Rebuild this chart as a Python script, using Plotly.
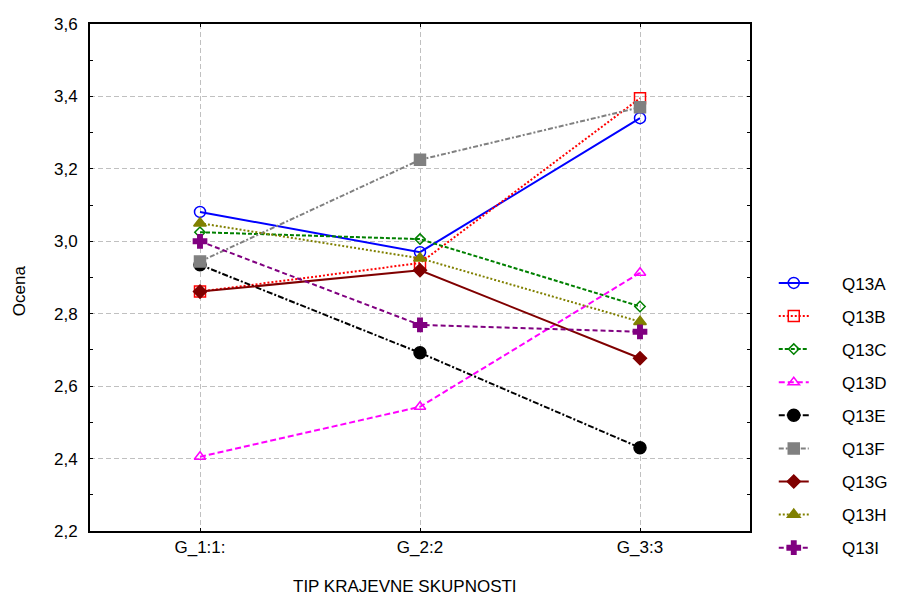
import plotly.graph_objects as go

categories = ["G_1:1:", "G_2:2", "G_3:3"]
series_names = ["Q13A", "Q13B", "Q13C", "Q13D", "Q13E", "Q13F", "Q13G", "Q13H", "Q13I"]
q13a = [3.081, 2.970, 3.340]
q13b = [2.861, 2.940, 3.395]
q13c = [3.025, 3.006, 2.820]
q13d = [2.405, 2.543, 2.913]
q13e = [2.935, 2.692, 2.430]
q13f = [2.944, 3.225, 3.370]
q13g = [2.861, 2.920, 2.677]
q13h = [3.050, 2.953, 2.778]
q13i = [3.000, 2.769, 2.750]
values = [q13a, q13b, q13c, q13d, q13e, q13f, q13g, q13h, q13i]
y_ticks = [2.2, 2.4, 2.6, 2.8, 3.0, 3.2, 3.4, 3.6]
x_title = "TIP KRAJEVNE SKUPNOSTI"
y_title = "Ocena"

styles = [
    dict(color="#0000FF", dash="solid", symbol="circle-open", size=11, width=2),
    dict(color="#FF0000", dash="2px,2px", symbol="square-open", size=11, width=2),
    dict(color="#008000", dash="4px,2px", symbol="diamond-open", size=8, width=2),
    dict(color="#FF00FF", dash="6px,3px", symbol="triangle-up-open", size=10, width=2),
    dict(color="#000000", dash="6px,2px,2px,2px", symbol="circle", size=12, width=2),
    dict(color="#808080", dash="5px,2px,2px,2px", symbol="square", size=11, width=2),
    dict(color="#800000", dash="solid", symbol="diamond", size=10, width=2),
    dict(color="#808000", dash="2px,2px", symbol="triangle-up", size=11, width=2),
    dict(color="#800080", dash="5px,3px", symbol="cross", size=11, width=2),
]

PAD = "\u00a0" * 6  # gap between legend symbol and label, as in the reference

fig = go.Figure()
for name, vals, st in zip(series_names, values, styles):
    fig.add_trace(go.Scatter(
        x=categories, y=vals, name=PAD + name, mode="lines+markers",
        legendgroup=name,
        line=dict(color=st["color"], dash=st["dash"], width=st["width"]),
        marker=dict(symbol=st["symbol"], size=st["size"], color=st["color"],
                    line=dict(color=st["color"], width=1.5)),
    ))

W, H = 889, 589
L, T = 82, 16
PW, PH = 660, 507

fig.update_layout(
    width=W, height=H,
    margin=dict(l=L, r=W - L - PW, t=T, b=H - T - PH, autoexpand=False),
    paper_bgcolor="white", plot_bgcolor="white",
    separators=",.",
    font=dict(family="Liberation Sans, Arial, sans-serif", size=17, color="black"),
    legend=dict(x=1.036, y=0.524, xanchor="left", yanchor="top",
                tracegroupgap=8, font=dict(size=17), itemwidth=30),
    xaxis=dict(
        type="category", range=[-0.5, 2.5],
        showline=True, linecolor="black", linewidth=2, mirror="ticks",
        showgrid=True, gridcolor="#C0C0C0", griddash="5px,3px", gridwidth=1,
        ticks="inside", ticklen=3, tickcolor="black",
        zeroline=False,
    ),
    yaxis=dict(
        range=[2.2, 3.6], tickvals=y_ticks, tickformat=".1f",
        showline=True, linecolor="black", linewidth=2, mirror="ticks",
        showgrid=True, gridcolor="#C0C0C0", griddash="5px,3px", gridwidth=1,
        ticks="inside", ticklen=3, tickcolor="black", ticklabelstandoff=7,
        minor=dict(dtick=0.1, ticks="inside", ticklen=3, tickcolor="black", showgrid=False),
        zeroline=False,
    ),
    annotations=[
        dict(text=x_title, xref="paper", yref="paper", x=0.477, y=-0.11,
             xanchor="center", yanchor="middle", showarrow=False, font=dict(size=17)),
        dict(text=y_title, xref="paper", yref="paper", x=-0.1076, y=0.475,
             xanchor="center", yanchor="middle", showarrow=False, textangle=-90,
             font=dict(size=17)),
    ],
)

fig.write_html("out.html")
